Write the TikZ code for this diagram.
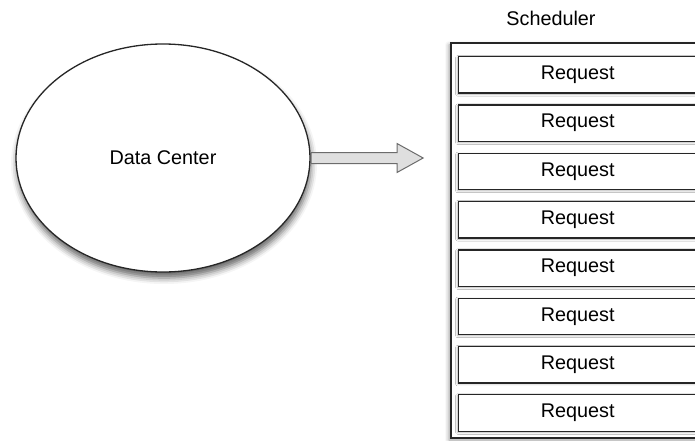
\documentclass[tikz,border=0pt]{standalone}
\usepackage{fontspec}
\setmainfont{Liberation Sans}
\usetikzlibrary{positioning}
\usetikzlibrary{shapes.geometric,shapes.arrows}
\usetikzlibrary{shadows.blur}
\begin{document}
\begin{tikzpicture}
                    [
                    x=1pt, y=1pt,
                    node distance=10.5pt,
                    font=\fontsize{19.8}{22}\selectfont,
                    dc/.style={ellipse, draw=black!85, line width=1.3pt, fill=white, minimum width=294pt, minimum height=228pt, inner sep=0pt,
                        blur shadow={shadow xshift=1pt, shadow yshift=-6pt, shadow blur radius=6pt, shadow opacity=60}},
                    sched/.style={rectangle, draw=black!85, line width=1.3pt, fill=white, minimum width=254pt, minimum height=395pt,
                        blur shadow={shadow xshift=-2pt, shadow yshift=-2pt, shadow blur radius=4pt, shadow opacity=40}},
                    req/.style={rectangle, draw=black!85, line width=1.3pt, fill=white, minimum width=238pt, minimum height=36.5pt, inner sep=0pt,
                        blur shadow={shadow xshift=-1pt, shadow yshift=-1pt, shadow blur radius=2pt, shadow opacity=30}},
                    bigarrow/.style={single arrow, draw=gray!85!black, line width=1pt, fill=gray!25, minimum height=112pt, minimum width=28pt,
                        inner sep=5pt, single arrow head extend=9pt, single arrow tip angle=58},
                    ]
                    % 画布
                    \useasboundingbox (0,0) rectangle (695,440);
                    %
                    \node[dc] (dc) at (163,282) {Data Center};
                    \node[bigarrow, anchor=west] (toSched) at (dc.east) {};
                    \node[sched] (sched) at (578,199.5) {};
                    \node (schedTitle) at (551,422) {Scheduler};
                    % 请求队列
                    \node[req, anchor=north west] (req1) at (458,384) {Request};
                    \foreach \i [count=\j from 2] in {1,...,7}
                        \node[req, below=of req\i] (req\j) {Request};
                \end{tikzpicture}
\end{document}
